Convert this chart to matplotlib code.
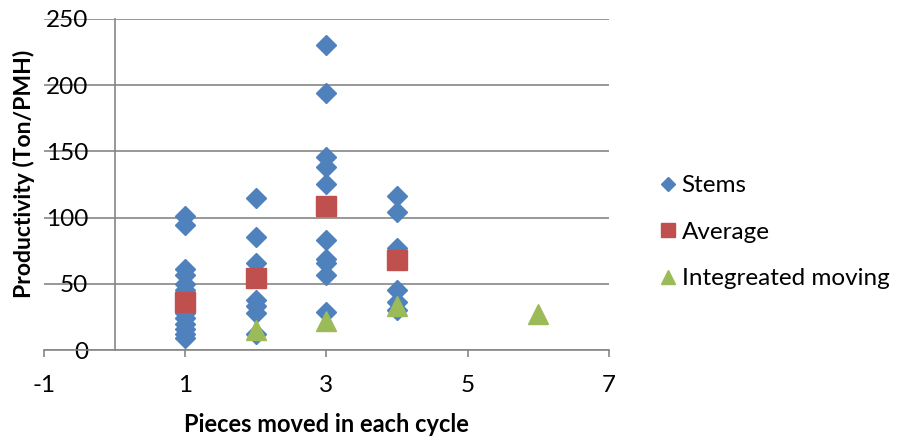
import matplotlib.pyplot as plt

plt.rcParams['font.family'] = ['Lato', 'DejaVu Sans']
plt.rcParams['axes.unicode_minus'] = False

# Stems (pieces moved, productivity)
stems_x = [1] * 14 + [2] * 7 + [3] * 10 + [4] * 6
stems_y = [101, 94, 61, 57, 50, 45, 40, 33, 28, 24, 20, 16, 12, 9,
           115, 85, 66, 38, 33, 28, 12,
           230, 194, 146, 138, 125, 83, 69, 66, 57, 29,
           116, 104, 77, 45, 36, 30]

avg_x = [1, 2, 3, 4]
avg_y = [36, 54, 109, 68]

integ_x = [2, 3, 4, 6]
integ_y = [15, 22, 33, 27]

blue = "#4F81BD"
red = "#C0504D"
green = "#9BBB59"
grid_c = "#868686"
fs = 17.5

fig = plt.figure(figsize=(8.98, 4.37), dpi=100)
ax = fig.add_axes([0.049, 0.199, 0.629, 0.758])

ax.plot(stems_x, stems_y, ls="none", marker="D", ms=10, color=blue, mec=blue, label="Stems", zorder=3)
ax.plot(avg_x, avg_y, ls="none", marker="s", ms=14, color=red, mec=red, label="Average", zorder=4)
ax.plot(integ_x, integ_y, ls="none", marker="^", ms=14, color=green, mec=green, label="Integreated moving", zorder=5)

ax.set_xlim(-1, 7)
ax.set_ylim(0, 250)
ax.set_xticks([-1, 1, 3, 5, 7])
ax.set_yticks(range(0, 251, 50))

ax.yaxis.grid(True, color=grid_c, lw=1.2)
ax.set_axisbelow(True)

for s in ["top", "right"]:
    ax.spines[s].set_visible(False)
ax.spines["left"].set_position(("data", 0))
ax.spines["left"].set_color(grid_c)
ax.spines["left"].set_linewidth(1.2)
ax.spines["bottom"].set_color(grid_c)
ax.spines["bottom"].set_linewidth(1.2)

ax.tick_params(axis="y", length=0, pad=19, labelsize=fs)
ax.tick_params(axis="x", length=5, width=1.2, color=grid_c, direction="out", pad=13, labelsize=fs)

ax.set_xlabel("Pieces moved in each cycle", fontsize=17, fontweight="bold")
ax.xaxis.set_label_coords(0.5, -0.19)
ax.set_ylabel("Productivity (Ton/PMH)", fontsize=16.5, fontweight="bold")
ax.yaxis.set_label_coords(-0.016, 0.533)

ax.legend(loc="center left", bbox_to_anchor=(1.047, 0.355), frameon=False, fontsize=fs,
          markerscale=0.75, handletextpad=0.1, labelspacing=1.05, handlelength=0.9)

fig.savefig("out.png", dpi=100)
